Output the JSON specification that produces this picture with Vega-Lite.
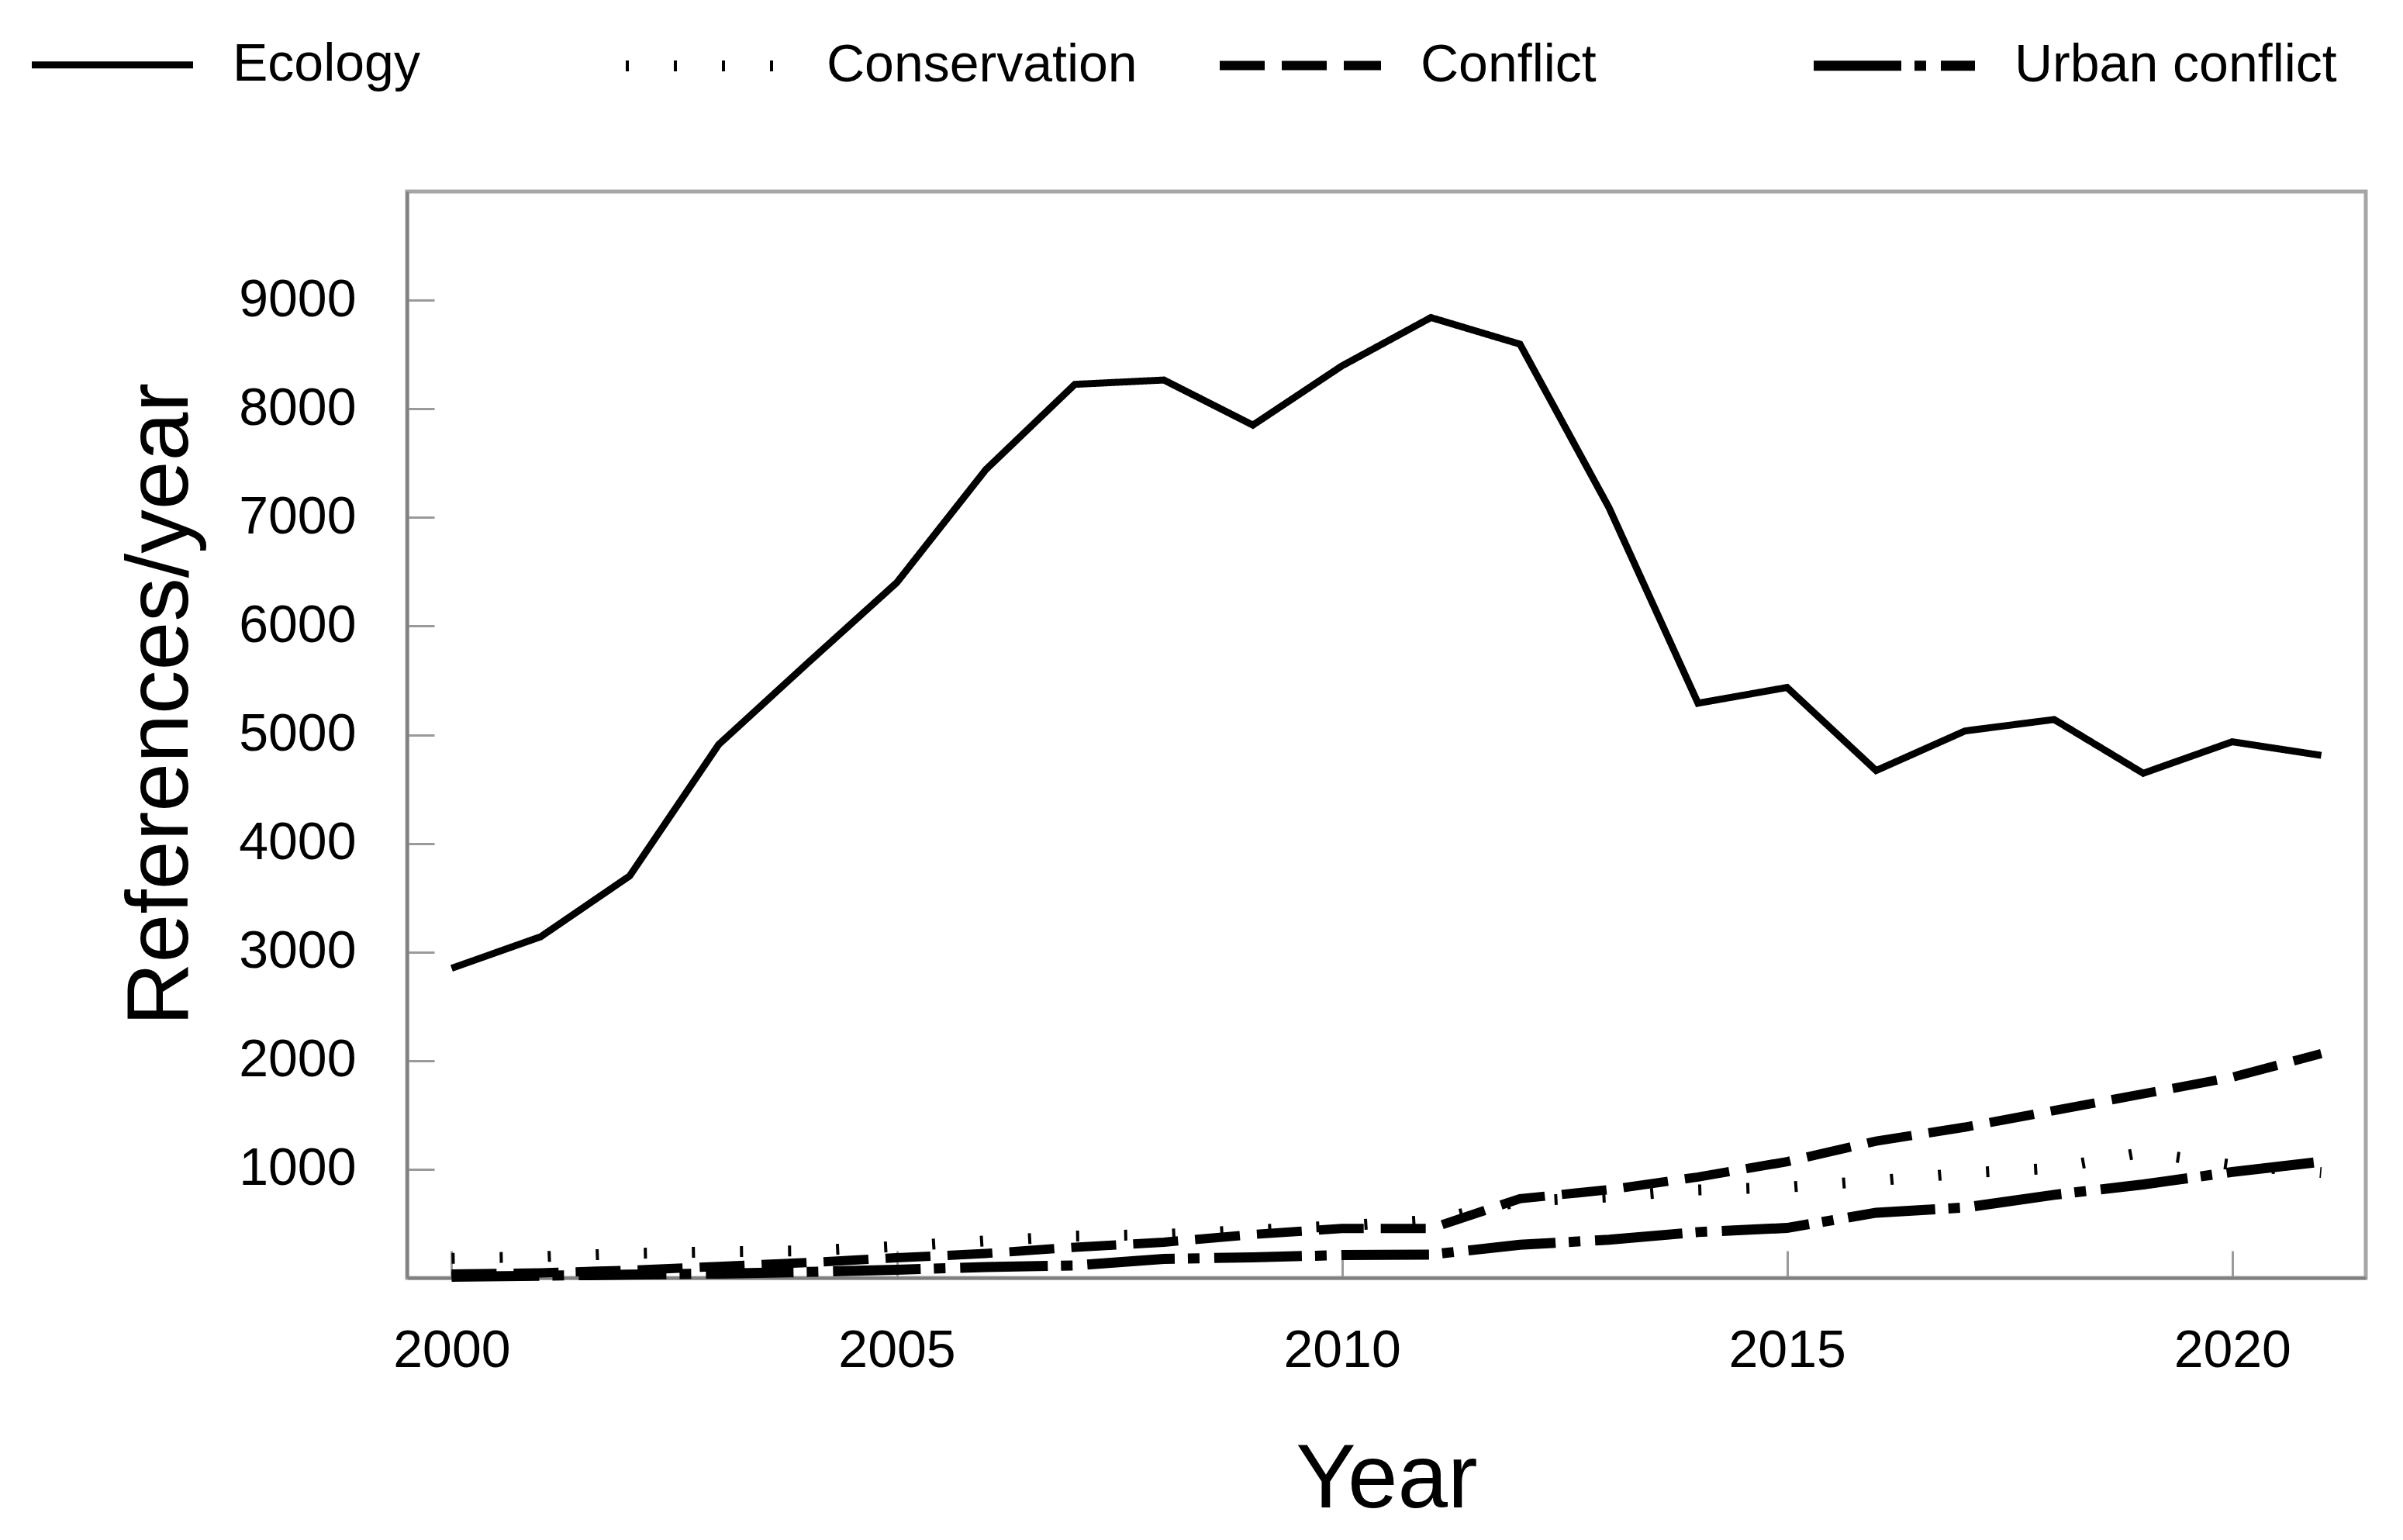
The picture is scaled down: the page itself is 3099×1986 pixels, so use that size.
{
  "$schema": "https://vega.github.io/schema/vega-lite/v6.json",
  "description": "References per year for ecology, conservation, conflict and urban conflict, 2000-2021",
  "autosize": {"type": "none"},
  "padding": {"left": 525, "top": 247, "right": 48, "bottom": 338},
  "width": 2526,
  "height": 1401,
  "background": "white",
  "data": {
    "values": [
      {"year": 2000, "series": "Ecology", "refs": 2850},
      {"year": 2001, "series": "Ecology", "refs": 3140},
      {"year": 2002, "series": "Ecology", "refs": 3700},
      {"year": 2003, "series": "Ecology", "refs": 4910},
      {"year": 2004, "series": "Ecology", "refs": 5660},
      {"year": 2005, "series": "Ecology", "refs": 6400},
      {"year": 2006, "series": "Ecology", "refs": 7440},
      {"year": 2007, "series": "Ecology", "refs": 8225},
      {"year": 2008, "series": "Ecology", "refs": 8265},
      {"year": 2009, "series": "Ecology", "refs": 7850},
      {"year": 2010, "series": "Ecology", "refs": 8395},
      {"year": 2011, "series": "Ecology", "refs": 8840},
      {"year": 2012, "series": "Ecology", "refs": 8595},
      {"year": 2013, "series": "Ecology", "refs": 7090},
      {"year": 2014, "series": "Ecology", "refs": 5290},
      {"year": 2015, "series": "Ecology", "refs": 5435},
      {"year": 2016, "series": "Ecology", "refs": 4670},
      {"year": 2017, "series": "Ecology", "refs": 5035},
      {"year": 2018, "series": "Ecology", "refs": 5140},
      {"year": 2019, "series": "Ecology", "refs": 4645},
      {"year": 2020, "series": "Ecology", "refs": 4935},
      {"year": 2021, "series": "Ecology", "refs": 4810},
      {"year": 2000, "series": "Conservation", "refs": 180},
      {"year": 2001, "series": "Conservation", "refs": 195},
      {"year": 2002, "series": "Conservation", "refs": 225},
      {"year": 2003, "series": "Conservation", "refs": 240},
      {"year": 2004, "series": "Conservation", "refs": 250},
      {"year": 2005, "series": "Conservation", "refs": 290},
      {"year": 2006, "series": "Conservation", "refs": 340},
      {"year": 2007, "series": "Conservation", "refs": 385},
      {"year": 2008, "series": "Conservation", "refs": 400},
      {"year": 2009, "series": "Conservation", "refs": 440},
      {"year": 2010, "series": "Conservation", "refs": 480},
      {"year": 2011, "series": "Conservation", "refs": 530},
      {"year": 2012, "series": "Conservation", "refs": 705},
      {"year": 2013, "series": "Conservation", "refs": 745},
      {"year": 2014, "series": "Conservation", "refs": 810},
      {"year": 2015, "series": "Conservation", "refs": 835},
      {"year": 2016, "series": "Conservation", "refs": 895},
      {"year": 2017, "series": "Conservation", "refs": 965},
      {"year": 2018, "series": "Conservation", "refs": 1010},
      {"year": 2019, "series": "Conservation", "refs": 1155},
      {"year": 2020, "series": "Conservation", "refs": 1040},
      {"year": 2021, "series": "Conservation", "refs": 970},
      {"year": 2000, "series": "Conflict", "refs": 35},
      {"year": 2001, "series": "Conflict", "refs": 47},
      {"year": 2002, "series": "Conflict", "refs": 70},
      {"year": 2003, "series": "Conflict", "refs": 106},
      {"year": 2004, "series": "Conflict", "refs": 141},
      {"year": 2005, "series": "Conflict", "refs": 185},
      {"year": 2006, "series": "Conflict", "refs": 225},
      {"year": 2007, "series": "Conflict", "refs": 282},
      {"year": 2008, "series": "Conflict", "refs": 329},
      {"year": 2009, "series": "Conflict", "refs": 400},
      {"year": 2010, "series": "Conflict", "refs": 455},
      {"year": 2011, "series": "Conflict", "refs": 455},
      {"year": 2012, "series": "Conflict", "refs": 729},
      {"year": 2013, "series": "Conflict", "refs": 812},
      {"year": 2014, "series": "Conflict", "refs": 929},
      {"year": 2015, "series": "Conflict", "refs": 1070},
      {"year": 2016, "series": "Conflict", "refs": 1259},
      {"year": 2017, "series": "Conflict", "refs": 1388},
      {"year": 2018, "series": "Conflict", "refs": 1541},
      {"year": 2019, "series": "Conflict", "refs": 1694},
      {"year": 2020, "series": "Conflict", "refs": 1847},
      {"year": 2021, "series": "Conflict", "refs": 2065},
      {"year": 2000, "series": "Urban conflict", "refs": 10},
      {"year": 2001, "series": "Urban conflict", "refs": 20},
      {"year": 2002, "series": "Urban conflict", "refs": 30},
      {"year": 2003, "series": "Urban conflict", "refs": 40},
      {"year": 2004, "series": "Urban conflict", "refs": 55},
      {"year": 2005, "series": "Urban conflict", "refs": 75},
      {"year": 2006, "series": "Urban conflict", "refs": 100},
      {"year": 2007, "series": "Urban conflict", "refs": 115},
      {"year": 2008, "series": "Urban conflict", "refs": 175},
      {"year": 2009, "series": "Urban conflict", "refs": 190},
      {"year": 2010, "series": "Urban conflict", "refs": 210},
      {"year": 2011, "series": "Urban conflict", "refs": 215},
      {"year": 2012, "series": "Urban conflict", "refs": 305},
      {"year": 2013, "series": "Urban conflict", "refs": 352},
      {"year": 2014, "series": "Urban conflict", "refs": 422},
      {"year": 2015, "series": "Urban conflict", "refs": 460},
      {"year": 2016, "series": "Urban conflict", "refs": 600},
      {"year": 2017, "series": "Urban conflict", "refs": 648},
      {"year": 2018, "series": "Urban conflict", "refs": 765},
      {"year": 2019, "series": "Urban conflict", "refs": 860},
      {"year": 2020, "series": "Urban conflict", "refs": 975},
      {"year": 2021, "series": "Urban conflict", "refs": 1070}
    ]
  },
  "mark": {"type": "line", "color": "black", "strokeCap": "butt"},
  "encoding": {
    "x": {
      "field": "year",
      "type": "quantitative",
      "scale": {"domain": [1999.5, 2021.5], "nice": false, "zero": false},
      "axis": {
        "values": [2000, 2005, 2010, 2015, 2020],
        "format": "d",
        "title": "Year",
        "titleY": 295,
        "titleBaseline": "alphabetic",
        "titleFontSize": 116,
        "labelPadding": 95
      }
    },
    "y": {
      "field": "refs",
      "type": "quantitative",
      "scale": {"domain": [0, 10000], "nice": false},
      "axis": {
        "values": [1000, 2000, 3000, 4000, 5000, 6000, 7000, 8000, 9000],
        "format": "d",
        "title": "References/year",
        "titleX": -284,
        "titleY": 661,
        "titleAlign": "center",
        "titleBaseline": "alphabetic",
        "titleAngle": -90,
        "titleFontSize": 113,
        "labelPadding": 101
      }
    },
    "strokeDash": {
      "field": "series",
      "type": "nominal",
      "scale": {
        "domain": ["Ecology", "Conservation", "Conflict", "Urban conflict"],
        "range": [[1, 0], [4, 58], [58, 22], [113, 17, 15, 19]]
      },
      "legend": {
        "orient": "none",
        "legendX": -491,
        "legendY": -273,
        "direction": "horizontal",
        "columns": 4,
        "gridAlign": "all",
        "columnPadding": 63,
        "title": null,
        "symbolType": "stroke",
        "symbolSize": 43264,
        "symbolStrokeColor": "black",
        "labelOffset": 44,
        "labelFontSize": 68,
        "labelLimit": 1000,
        "padding": 0
      }
    },
    "strokeWidth": {
      "field": "series",
      "type": "nominal",
      "scale": {
        "type": "ordinal",
        "domain": ["Ecology", "Conservation", "Conflict", "Urban conflict"],
        "range": [9, 14, 12, 13]
      }
    }
  },
  "config": {
    "font": "Liberation Sans",
    "view": {"stroke": "#a6a6a6", "strokeWidth": 5},
    "axis": {
      "grid": false,
      "domainColor": "#808080",
      "domainWidth": 4,
      "tickColor": "#9a9a9a",
      "tickWidth": 3,
      "tickSize": -35,
      "labelFont": "Liberation Sans",
      "labelFontSize": 68,
      "labelColor": "black",
      "titleFont": "Liberation Sans",
      "titleFontWeight": "normal",
      "titleColor": "black"
    },
    "legend": {"labelFont": "Liberation Sans", "labelColor": "black"}
  }
}
